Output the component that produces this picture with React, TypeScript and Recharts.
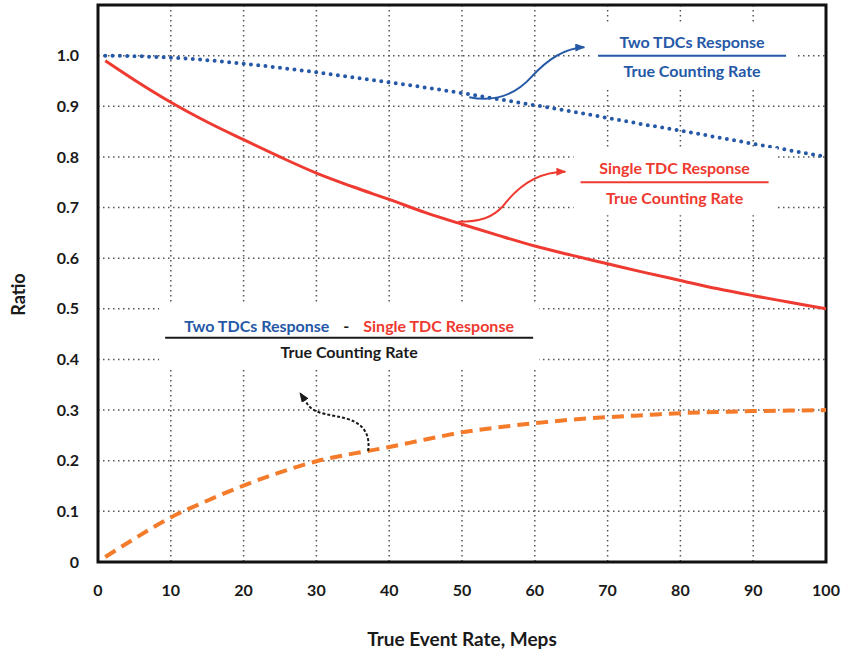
import { LineChart, Line, XAxis, YAxis, CartesianGrid, ReferenceDot, ReferenceArea } from 'recharts'

const rates = [1, 5, 10, 15, 20, 25, 30, 35, 40, 45, 50, 55, 60, 65, 70, 75, 80, 85, 90, 95, 100]
const twoTdcs = [1.0, 0.999, 0.996, 0.991, 0.984, 0.976, 0.967, 0.957, 0.947, 0.937, 0.926, 0.914, 0.902, 0.89, 0.877, 0.864, 0.852, 0.839, 0.826, 0.813, 0.8]
const singleTdc = [0.99, 0.952, 0.908, 0.869, 0.834, 0.8, 0.768, 0.741, 0.716, 0.69, 0.667, 0.645, 0.624, 0.606, 0.589, 0.572, 0.556, 0.54, 0.526, 0.513, 0.5]
const difference = [0.01, 0.046, 0.088, 0.121, 0.151, 0.177, 0.199, 0.214, 0.227, 0.242, 0.256, 0.266, 0.274, 0.281, 0.286, 0.29, 0.294, 0.296, 0.298, 0.299, 0.3]

const xTicks = [0, 10, 20, 30, 40, 50, 60, 70, 80, 90, 100]
const yTicks = [0, 0.1, 0.2, 0.3, 0.4, 0.5, 0.6, 0.7, 0.8, 0.9, 1.0]

const data = rates.map((rate, i) => ({
  rate,
  two: twoTdcs[i],
  single: singleTdc[i],
  diff: difference[i],
}))

const FONT = 'Lato, "Open Sans", sans-serif'
const BLUE = '#2558a6'
const RED = '#ee3a30'
const ORANGE = '#f47b2a'
const INK = '#1a1a1a'

function curvedArrow(d: string, color: string, id: string, dashed = false) {
  return (props: any) => {
    const { cx, cy } = props
    return (
      <g transform={`translate(${cx},${cy})`}>
        <defs>
          <marker id={id} markerWidth="10" markerHeight="8" refX="9" refY="4" orient="auto" markerUnits="userSpaceOnUse">
            <path d="M0,0 L10,4 L0,8 z" fill={color} />
          </marker>
        </defs>
        <path
          d={d}
          fill="none"
          stroke={color}
          strokeWidth={2}
          strokeDasharray={dashed ? '3 2' : undefined}
          markerEnd={`url(#${id})`}
        />
      </g>
    )
  }
}

function fractionLabel(top: (string | [string, string])[], bottom: string, half: number, box: [number, number, number, number], topY: number, bottomY: number, color: string) {
  return (props: any) => {
    const { cx, cy } = props
    return (
      <g transform={`translate(${cx},${cy})`} fontFamily={FONT} fontWeight="bold" fontSize={16}>
        <rect x={box[0]} y={box[1]} width={box[2]} height={box[3]} fill="#fff" />
        <text x={0} y={topY} textAnchor="middle" dominantBaseline="central" fill={color}>
          {top.map((t, i) =>
            Array.isArray(t) ? (
              <tspan key={i} fill={t[1]} dx={i > 0 ? 14 : 0}>{t[0]}</tspan>
            ) : (
              <tspan key={i}>{t}</tspan>
            )
          )}
        </text>
        <line x1={-half} x2={half} y1={0} y2={0} stroke={color} strokeWidth={2} />
        <text x={0} y={bottomY} textAnchor="middle" dominantBaseline="central" fill={color}>
          {bottom}
        </text>
      </g>
    )
  }
}

const yLabel = (props: any) => {
  const { viewBox } = props
  const x = viewBox.x + 18
  const y = viewBox.y + viewBox.height / 2 + 11
  return (
    <text x={x} y={y} transform={`rotate(-90 ${x} ${y})`} textAnchor="middle" dominantBaseline="central" fontFamily={FONT} fontWeight="bold" fontSize={18} fill={INK}>
      Ratio
    </text>
  )
}

export default function App() {
  return (
    <div style={{ width: 845, height: 652, background: '#fff' }}>
      <style>{'body{margin:0}'}</style>
      <LineChart width={845} height={652} data={data} margin={{ top: 5, right: 19, left: 0, bottom: 0 }}>
        <CartesianGrid stroke="#555" strokeWidth={1.5} strokeDasharray="1.5 3.5" />
        <XAxis
          dataKey="rate"
          type="number"
          domain={[0, 100]}
          ticks={xTicks}
          height={90}
          tickSize={0}
          tickMargin={23}
          axisLine={false}
          tick={{ fontFamily: FONT, fontWeight: 'bold', fontSize: 16, fill: INK }}
          label={{ value: 'True Event Rate, Meps', position: 'insideBottom', offset: 6, fontFamily: FONT, fontWeight: 'bold', fontSize: 19, fill: INK }}
        />
        <YAxis
          type="number"
          domain={[0, 1.1]}
          ticks={yTicks}
          width={98}
          tickSize={0}
          tickMargin={19}
          axisLine={false}
          tickFormatter={(v: number) => (v === 0 ? '0' : v.toFixed(1))}
          tick={{ fontFamily: FONT, fontWeight: 'bold', fontSize: 16, fill: INK }}
          label={{ content: yLabel }}
        />
        {/* white boxes + fraction labels */}
        <ReferenceDot
          x={81.6}
          y={1.0}
          ifOverflow="visible"
          shape={fractionLabel(['Two TDCs Response'], 'True Counting Rate', 94, [-102, -31, 205, 63], -15, 15, BLUE)}
        />
        <ReferenceDot
          x={79.2}
          y={0.75}
          ifOverflow="visible"
          shape={fractionLabel(['Single TDC Response'], 'True Counting Rate', 94, [-101, -34, 204, 67], -15, 15, RED)}
        />
        <ReferenceDot
          x={34.5}
          y={0.443}
          ifOverflow="visible"
          shape={fractionLabel(
            [['Two TDCs Response', BLUE], ['-', INK], ['Single TDC Response', RED]],
            'True Counting Rate',
            184,
            [-190, -35, 380, 67],
            -13,
            14,
            INK
          )}
        />
        {/* curved arrows from the curves to their labels */}
        <ReferenceDot x={51} y={0.918} ifOverflow="visible" shape={curvedArrow('M0,0 C20,4 42,2 62,-20 C78,-38 95,-49 115,-50', BLUE, 'head-blue')} />
        <ReferenceDot x={49.5} y={0.672} ifOverflow="visible" shape={curvedArrow('M0,0 C22,0 34,-4 45,-16 C60,-36 80,-50 107,-50', RED, 'head-red')} />
        <ReferenceDot x={37.1} y={0.219} ifOverflow="visible" shape={curvedArrow('M0,0 C2,-14 -2,-26 -20,-32 C-36,-37 -52,-36 -60,-46 L-68,-58', INK, 'head-black', true)} />

        <Line type="monotone" dataKey="two" stroke={BLUE} strokeWidth={4} strokeDasharray="0 7.3" strokeLinecap="round" dot={false} isAnimationActive={false} />
        <Line type="monotone" dataKey="single" stroke={RED} strokeWidth={3} dot={false} isAnimationActive={false} />
        <Line type="monotone" dataKey="diff" stroke={ORANGE} strokeWidth={4} strokeDasharray="12 7" dot={false} isAnimationActive={false} />
        <ReferenceArea x1={0} x2={100} y1={0} y2={1.1} fill="none" stroke="#111" strokeWidth={3} ifOverflow="visible" />
      </LineChart>
    </div>
  )
}
